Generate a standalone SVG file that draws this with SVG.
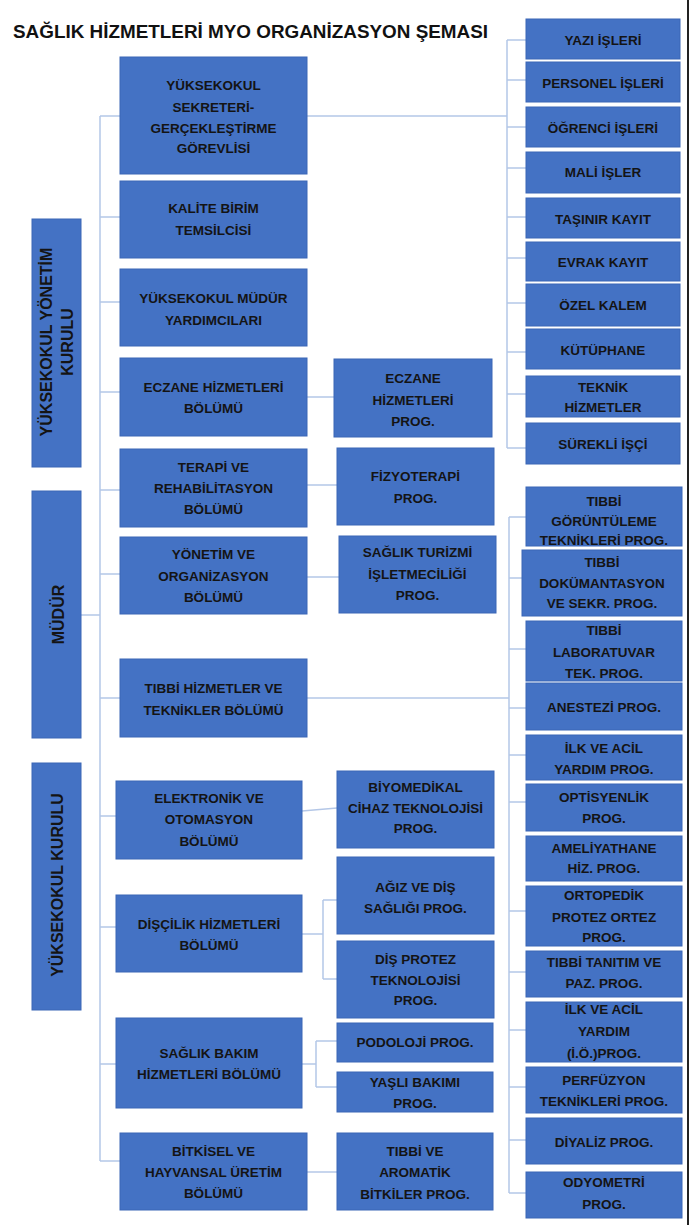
<svg xmlns="http://www.w3.org/2000/svg" width="690" height="1225" viewBox="0 0 690 1225">
<style>
.bx{fill:#4472c4;stroke:#3b66b6;stroke-width:1}
.t{font-family:"Liberation Sans",Arial,sans-serif;font-weight:bold;font-size:13.5px;fill:#141414;text-anchor:middle}
.v{font-family:"Liberation Sans",Arial,sans-serif;font-weight:bold;font-size:16px;fill:#141414;text-anchor:middle}
.c{fill:none;stroke:#b4c7e7;stroke-width:1.5}
</style>
<rect x="0" y="0" width="690" height="1225" fill="#ffffff"/>
<line x1="688" y1="0" x2="688" y2="1225" stroke="#222" stroke-width="2"/>
<text id="title" x="13" y="38" font-family="Liberation Sans,Arial,sans-serif" font-weight="bold" font-size="18.5" fill="#111" textLength="475" lengthAdjust="spacingAndGlyphs">SAĞLIK HİZMETLERİ MYO ORGANİZASYON ŞEMASI</text>

<g id="connectors" class="c">
<path d="M100,116V1161M100,116H120M100,217H120M100,302H120M100,392H120M100,490H120M100,574H120M100,698H120M100,816H116M100,927H116M100,1064H116M100,1161H120M81,615H100"/>
<path d="M307,116H507M507,40V448M507,40H526M507,80H526M507,127H526M507,168H526M507,217H526M507,258H526M507,303H526M507,352H526M507,394H526M507,448H526"/>
<path d="M307,397H334M307,485H337M307,577H339"/>
<path d="M307,698H509M509,517V1193M509,517H526M509,578H522M509,649H526M509,708H526M509,755H526M509,802H526M509,911H526M509,972H526M509,1030H526M509,1087H526M509,1140H526M509,1193H526"/>
<path d="M302,811L337,808"/>
<path d="M302,934H323M323,900V979M323,900H337M323,979H337"/>
<path d="M302,1064H316M316,1041V1087M316,1041H337M316,1087H337"/>
<path d="M307,1172H337"/>
</g>

<g id="yonetim-kurulu"><rect class="bx" x="32" y="219" width="49" height="248"/>
<g transform="translate(56.5,342) rotate(-90)"><text class="v" x="0" y="-4.5">YÜKSEKOKUL YÖNETİM</text><text class="v" x="0" y="16.5">KURULU</text></g></g>
<g id="mudur"><rect class="bx" x="32" y="491" width="49" height="247"/>
<g transform="translate(56.5,614.5) rotate(-90)"><text class="v" x="0" y="7.5" font-size="21.5">MÜDÜR</text></g></g>
<g id="yuksekokul-kurulu"><rect class="bx" x="32" y="763" width="49" height="247"/>
<g transform="translate(56.5,885) rotate(-90)"><text class="v" x="0" y="6.5">YÜKSEKOKUL KURULU</text></g></g>

<g id="sekreter"><rect class="bx" x="120" y="57" width="187" height="117"/>
<text class="t" x="213.5" y="90">YÜKSEKOKUL</text><text class="t" x="213.5" y="112">SEKRETERİ-</text><text class="t" x="213.5" y="133">GERÇEKLEŞTİRME</text><text class="t" x="213.5" y="153">GÖREVLİSİ</text></g>
<g id="kalite"><rect class="bx" x="120" y="181" width="187" height="77"/>
<text class="t" x="213.5" y="213">KALİTE BİRİM</text><text class="t" x="213.5" y="235">TEMSİLCİSİ</text></g>
<g id="mudur-yrd"><rect class="bx" x="120" y="269" width="187" height="77"/>
<text class="t" x="213.5" y="303">YÜKSEKOKUL MÜDÜR</text><text class="t" x="213.5" y="325">YARDIMCILARI</text></g>
<g id="eczane"><rect class="bx" x="120" y="358" width="187" height="78"/>
<text class="t" x="213.5" y="392">ECZANE HİZMETLERİ</text><text class="t" x="213.5" y="413">BÖLÜMÜ</text></g>
<g id="terapi"><rect class="bx" x="120" y="449" width="187" height="78"/>
<text class="t" x="213.5" y="472">TERAPİ VE</text><text class="t" x="213.5" y="493">REHABİLİTASYON</text><text class="t" x="213.5" y="514">BÖLÜMÜ</text></g>
<g id="yonetim-org"><rect class="bx" x="120" y="537" width="187" height="77"/>
<text class="t" x="213.5" y="559">YÖNETİM VE</text><text class="t" x="213.5" y="581">ORGANİZASYON</text><text class="t" x="213.5" y="602">BÖLÜMÜ</text></g>
<g id="tibbi-hiz"><rect class="bx" x="120" y="659" width="187" height="78"/>
<text class="t" x="213.5" y="693">TIBBİ HİZMETLER VE</text><text class="t" x="213.5" y="715">TEKNİKLER BÖLÜMÜ</text></g>
<g id="elektronik"><rect class="bx" x="116" y="781" width="186" height="78"/>
<text class="t" x="209" y="803">ELEKTRONİK VE</text><text class="t" x="209" y="824">OTOMASYON</text><text class="t" x="209" y="846">BÖLÜMÜ</text></g>
<g id="discilik"><rect class="bx" x="116" y="895" width="186" height="77"/>
<text class="t" x="209" y="929">DİŞÇİLİK HİZMETLERİ</text><text class="t" x="209" y="950">BÖLÜMÜ</text></g>
<g id="saglik-bakim"><rect class="bx" x="116" y="1018" width="186" height="90"/>
<text class="t" x="209" y="1058">SAĞLIK BAKIM</text><text class="t" x="209" y="1079">HİZMETLERİ BÖLÜMÜ</text></g>
<g id="bitkisel"><rect class="bx" x="120" y="1133" width="187" height="77"/>
<text class="t" x="213.5" y="1156">BİTKİSEL VE</text><text class="t" x="213.5" y="1177">HAYVANSAL ÜRETİM</text><text class="t" x="213.5" y="1198">BÖLÜMÜ</text></g>

<g id="p-eczane"><rect class="bx" x="334" y="359" width="158" height="78"/>
<text class="t" x="413" y="383">ECZANE</text><text class="t" x="413" y="405">HİZMETLERİ</text><text class="t" x="413" y="426">PROG.</text></g>
<g id="p-fizyo"><rect class="bx" x="337" y="448" width="157" height="77"/>
<text class="t" x="415.5" y="481">FİZYOTERAPİ</text><text class="t" x="415.5" y="503">PROG.</text></g>
<g id="p-turizm"><rect class="bx" x="339" y="536" width="157" height="77"/>
<text class="t" x="417.5" y="557">SAĞLIK TURİZMİ</text><text class="t" x="417.5" y="579">İŞLETMECİLİĞİ</text><text class="t" x="417.5" y="600">PROG.</text></g>
<g id="p-biyomed"><rect class="bx" x="337" y="771" width="157" height="77"/>
<text class="t" x="415.5" y="792">BİYOMEDİKAL</text><text class="t" x="415.5" y="813">CİHAZ TEKNOLOJİSİ</text><text class="t" x="415.5" y="833">PROG.</text></g>
<g id="p-agiz"><rect class="bx" x="337" y="857" width="157" height="77"/>
<text class="t" x="415.5" y="892">AĞIZ VE DİŞ</text><text class="t" x="415.5" y="913">SAĞLIĞI PROG.</text></g>
<g id="p-protez"><rect class="bx" x="337" y="941" width="157" height="77"/>
<text class="t" x="415.5" y="964">DİŞ PROTEZ</text><text class="t" x="415.5" y="985">TEKNOLOJİSİ</text><text class="t" x="415.5" y="1005">PROG.</text></g>
<g id="p-podoloji"><rect class="bx" x="337" y="1023" width="156" height="39"/>
<text class="t" x="415" y="1047">PODOLOJİ PROG.</text></g>
<g id="p-yasli"><rect class="bx" x="337" y="1072" width="156" height="40"/>
<text class="t" x="415" y="1087">YAŞLI BAKIMI</text><text class="t" x="415" y="1108">PROG.</text></g>
<g id="p-aromatik"><rect class="bx" x="337" y="1133" width="156" height="77"/>
<text class="t" x="415" y="1156">TIBBİ VE</text><text class="t" x="415" y="1177">AROMATİK</text><text class="t" x="415" y="1199">BİTKİLER PROG.</text></g>

<g id="r-yazi"><rect class="bx" x="526" y="19" width="154" height="40"/><text class="t" x="603" y="45">YAZI İŞLERİ</text></g>
<g id="r-personel"><rect class="bx" x="526" y="62" width="154" height="40"/><text class="t" x="603" y="88">PERSONEL İŞLERİ</text></g>
<g id="r-ogrenci"><rect class="bx" x="526" y="107" width="154" height="40"/><text class="t" x="603" y="133">ÖĞRENCİ İŞLERİ</text></g>
<g id="r-mali"><rect class="bx" x="526" y="152" width="154" height="41"/><text class="t" x="603" y="177">MALİ İŞLER</text></g>
<g id="r-tasinir"><rect class="bx" x="526" y="198" width="154" height="40"/><text class="t" x="603" y="224">TAŞINIR KAYIT</text></g>
<g id="r-evrak"><rect class="bx" x="526" y="242" width="154" height="39"/><text class="t" x="603" y="267">EVRAK KAYIT</text></g>
<g id="r-ozel"><rect class="bx" x="526" y="284" width="154" height="42"/><text class="t" x="603" y="310">ÖZEL KALEM</text></g>
<g id="r-kutuphane"><rect class="bx" x="526" y="329" width="154" height="40"/><text class="t" x="603" y="355">KÜTÜPHANE</text></g>
<g id="r-teknik"><rect class="bx" x="526" y="376" width="154" height="41"/><text class="t" x="603" y="392">TEKNİK</text><text class="t" x="603" y="412">HİZMETLER</text></g>
<g id="r-surekli"><rect class="bx" x="526" y="423" width="154" height="41"/><text class="t" x="603" y="449">SÜREKLİ İŞÇİ</text></g>

<g id="r-goruntuleme"><rect class="bx" x="526" y="487" width="156" height="59"/>
<text class="t" x="604" y="506">TIBBİ</text><text class="t" x="604" y="526">GÖRÜNTÜLEME</text><text class="t" x="604" y="545">TEKNİKLERİ PROG.</text></g>
<g id="r-dokumantasyon"><rect class="bx" x="522" y="550" width="160" height="66"/>
<text class="t" x="602" y="567">TIBBİ</text><text class="t" x="602" y="588">DOKÜMANTASYON</text><text class="t" x="602" y="608">VE SEKR. PROG.</text></g>
<g id="r-lab"><rect class="bx" x="526" y="621" width="156" height="60"/>
<text class="t" x="604" y="635">TIBBİ</text><text class="t" x="604" y="657">LABORATUVAR</text><text class="t" x="604" y="678">TEK. PROG.</text></g>
<g id="r-anestezi"><rect class="bx" x="526" y="683" width="156" height="47"/><text class="t" x="604" y="712">ANESTEZİ PROG.</text></g>
<g id="r-ilk"><rect class="bx" x="526" y="735" width="156" height="45"/><text class="t" x="604" y="753">İLK VE ACİL</text><text class="t" x="604" y="774">YARDIM PROG.</text></g>
<g id="r-optisyen"><rect class="bx" x="526" y="784" width="156" height="47"/><text class="t" x="604" y="802">OPTİSYENLİK</text><text class="t" x="604" y="823">PROG.</text></g>
<g id="r-ameliyat"><rect class="bx" x="526" y="836" width="156" height="45"/><text class="t" x="604" y="853">AMELİYATHANE</text><text class="t" x="604" y="873">HİZ. PROG.</text></g>
<g id="r-ortopedik"><rect class="bx" x="526" y="886" width="156" height="60"/><text class="t" x="604" y="900">ORTOPEDİK</text><text class="t" x="604" y="922">PROTEZ ORTEZ</text><text class="t" x="604" y="942">PROG.</text></g>
<g id="r-tanitim"><rect class="bx" x="526" y="951" width="156" height="46"/><text class="t" x="604" y="967">TIBBİ TANITIM VE</text><text class="t" x="604" y="988">PAZ. PROG.</text></g>
<g id="r-ilk-io"><rect class="bx" x="526" y="1002" width="156" height="60"/><text class="t" x="604" y="1014">İLK VE ACİL</text><text class="t" x="604" y="1036">YARDIM</text><text class="t" x="604" y="1058">(İ.Ö.)PROG.</text></g>
<g id="r-perfuzyon"><rect class="bx" x="526" y="1067" width="156" height="46"/><text class="t" x="604" y="1085">PERFÜZYON</text><text class="t" x="604" y="1106">TEKNİKLERİ PROG.</text></g>
<g id="r-diyaliz"><rect class="bx" x="526" y="1118" width="156" height="46"/><text class="t" x="604" y="1147">DİYALİZ PROG.</text></g>
<g id="r-odyometri"><rect class="bx" x="526" y="1172" width="156" height="46"/><text class="t" x="604" y="1187">ODYOMETRİ</text><text class="t" x="604" y="1209">PROG.</text></g>
</svg>
